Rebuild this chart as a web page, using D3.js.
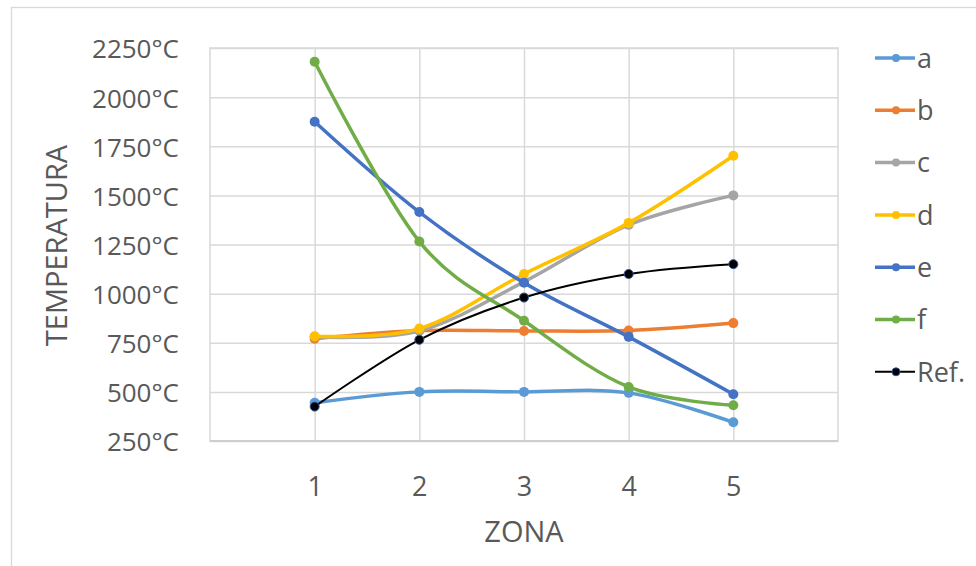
<!DOCTYPE html>
<html>
<head>
<meta charset="utf-8">
<script src="https://cdn.jsdelivr.net/npm/d3@7"></script>
<style>
  html, body { margin: 0; padding: 0; background: #fff; }
  svg { display: block; }
</style>
</head>
<body>
<svg id="chart" width="976" height="566"></svg>
<script>
// ---- data ----
const zones = [1, 2, 3, 4, 5];
const yTicks = [250, 500, 750, 1000, 1250, 1500, 1750, 2000, 2250];
const seriesNames = ["a", "b", "c", "d", "e", "f", "Ref."];
const seriesColors = ["#5B9BD5", "#ED7D31", "#A5A5A5", "#FFC000", "#4472C4", "#70AD47", "#000000"];
const aValues = [445, 500, 500, 495, 345];
const bValues = [770, 812, 810, 812, 850];
const cValues = [780, 810, 1060, 1350, 1500];
const dValues = [783, 822, 1100, 1360, 1702];
const eValues = [1875, 1415, 1055, 780, 488];
const fValues = [2180, 1265, 862, 525, 432];
const refValues = [425, 765, 980, 1100, 1150];
const xLabel = "ZONA";
const yLabel = "TEMPERATURA";

const allValues = [aValues, bValues, cValues, dValues, eValues, fValues, refValues];

// ---- layout ----
const svg = d3.select("#chart");
const plot = { left: 210, right: 838, top: 48, bottom: 441 };
const font = "'Open Sans', 'Noto Sans', sans-serif";
const textColor = "#595959";
const gridColor = "#d9d9d9";

const x = d3.scaleLinear().domain([0, 6]).range([plot.left, plot.right]);
const y = d3.scaleLinear().domain([250, 2250]).range([plot.bottom, plot.top]);

// outer chart border
svg.append("rect")
  .attr("x", 11.5).attr("y", 7.5)
  .attr("width", 980).attr("height", 580)
  .attr("fill", "none").attr("stroke", gridColor).attr("stroke-width", 1.3);

// horizontal gridlines
svg.append("g")
  .attr("transform", `translate(${plot.left},0)`)
  .call(d3.axisLeft(y).tickValues(yTicks).tickSize(-(plot.right - plot.left)).tickFormat(""))
  .call(g => g.select(".domain").remove())
  .call(g => g.selectAll("line").attr("stroke", gridColor).attr("stroke-width", 1.5));

// vertical gridlines
svg.append("g")
  .attr("transform", `translate(0,${plot.bottom})`)
  .call(d3.axisBottom(x).tickValues(zones).tickSize(-(plot.bottom - plot.top)).tickFormat(""))
  .call(g => g.select(".domain").remove())
  .call(g => g.selectAll("line").attr("stroke", gridColor).attr("stroke-width", 1.5));

// plot border
svg.append("rect")
  .attr("x", plot.left).attr("y", plot.top)
  .attr("width", plot.right - plot.left).attr("height", plot.bottom - plot.top)
  .attr("fill", "none").attr("stroke", gridColor).attr("stroke-width", 1.5);
svg.append("line")
  .attr("x1", plot.left).attr("x2", plot.right)
  .attr("y1", plot.bottom).attr("y2", plot.bottom)
  .attr("stroke", "#c8c8c8").attr("stroke-width", 1.5);

// y tick labels
svg.append("g")
  .attr("transform", `translate(${plot.left - 31},0)`)
  .call(d3.axisLeft(y).tickValues(yTicks).tickSize(0).tickPadding(0).tickFormat(d => d + "°C"))
  .call(g => g.select(".domain").remove())
  .call(g => g.selectAll("text")
    .attr("fill", textColor).attr("font-family", font).attr("font-size", 26)
    .attr("dy", "0.38em"));

// x tick labels
svg.append("g")
  .attr("transform", `translate(0,${plot.bottom})`)
  .call(d3.axisBottom(x).tickValues(zones).tickSize(0).tickPadding(0).tickFormat(d3.format("d")))
  .call(g => g.select(".domain").remove())
  .call(g => g.selectAll("text")
    .attr("fill", textColor).attr("font-family", font).attr("font-size", 27)
    .attr("dy", null).attr("y", 55));

// axis titles
svg.append("text")
  .attr("x", (plot.left + plot.right) / 2).attr("y", 542)
  .attr("text-anchor", "middle")
  .attr("fill", textColor).attr("font-family", font).attr("font-size", 29)
  .text(xLabel);

svg.append("text")
  .attr("transform", `translate(67,${(plot.top + plot.bottom) / 2 + 1}) rotate(-90)`)
  .attr("text-anchor", "middle")
  .attr("fill", textColor).attr("font-family", font).attr("font-size", 29)
  .text(yLabel);

// series
const line = d3.line()
  .x((d, i) => x(zones[i]))
  .y(d => y(d))
  .curve(d3.curveCardinal.tension(0));

const series = seriesNames.map((name, k) => ({
  name, color: seriesColors[k], values: allValues[k], isRef: name === "Ref."
}));

const sg = svg.append("g").selectAll("g").data(series).join("g");
sg.append("path")
  .attr("d", d => line(d.values))
  .attr("fill", "none")
  .attr("stroke", d => d.color)
  .attr("stroke-width", d => d.isRef ? 2 : 3.5)
  .attr("stroke-linejoin", "round");
sg.selectAll("circle")
  .data(d => d.values.map((v, i) => ({ v, i, s: d })))
  .join("circle")
  .attr("cx", d => x(zones[d.i]))
  .attr("cy", d => y(d.v))
  .attr("r", d => d.s.isRef ? 4.5 : 5)
  .attr("fill", d => d.s.color)
  .attr("stroke", d => d.s.isRef ? "#2f5597" : d.s.color)
  .attr("stroke-width", d => d.s.isRef ? 1 : 0);

// legend
const legend = svg.append("g").selectAll("g").data(series).join("g")
  .attr("transform", (d, i) => `translate(875,${58 + i * 52.3})`);
legend.append("line")
  .attr("x1", 0).attr("x2", 40).attr("y1", 0).attr("y2", 0)
  .attr("stroke", d => d.color).attr("stroke-width", d => d.isRef ? 2 : 3.5);
legend.append("circle")
  .attr("cx", 21).attr("cy", 0).attr("r", 4)
  .attr("fill", d => d.color)
  .attr("stroke", d => d.isRef ? "#2f5597" : d.color).attr("stroke-width", d => d.isRef ? 1 : 0);
legend.append("text")
  .attr("x", 42).attr("y", 0).attr("dy", "0.36em")
  .attr("fill", textColor).attr("font-family", font).attr("font-size", 27)
  .text(d => d.name);
</script>
</body>
</html>
